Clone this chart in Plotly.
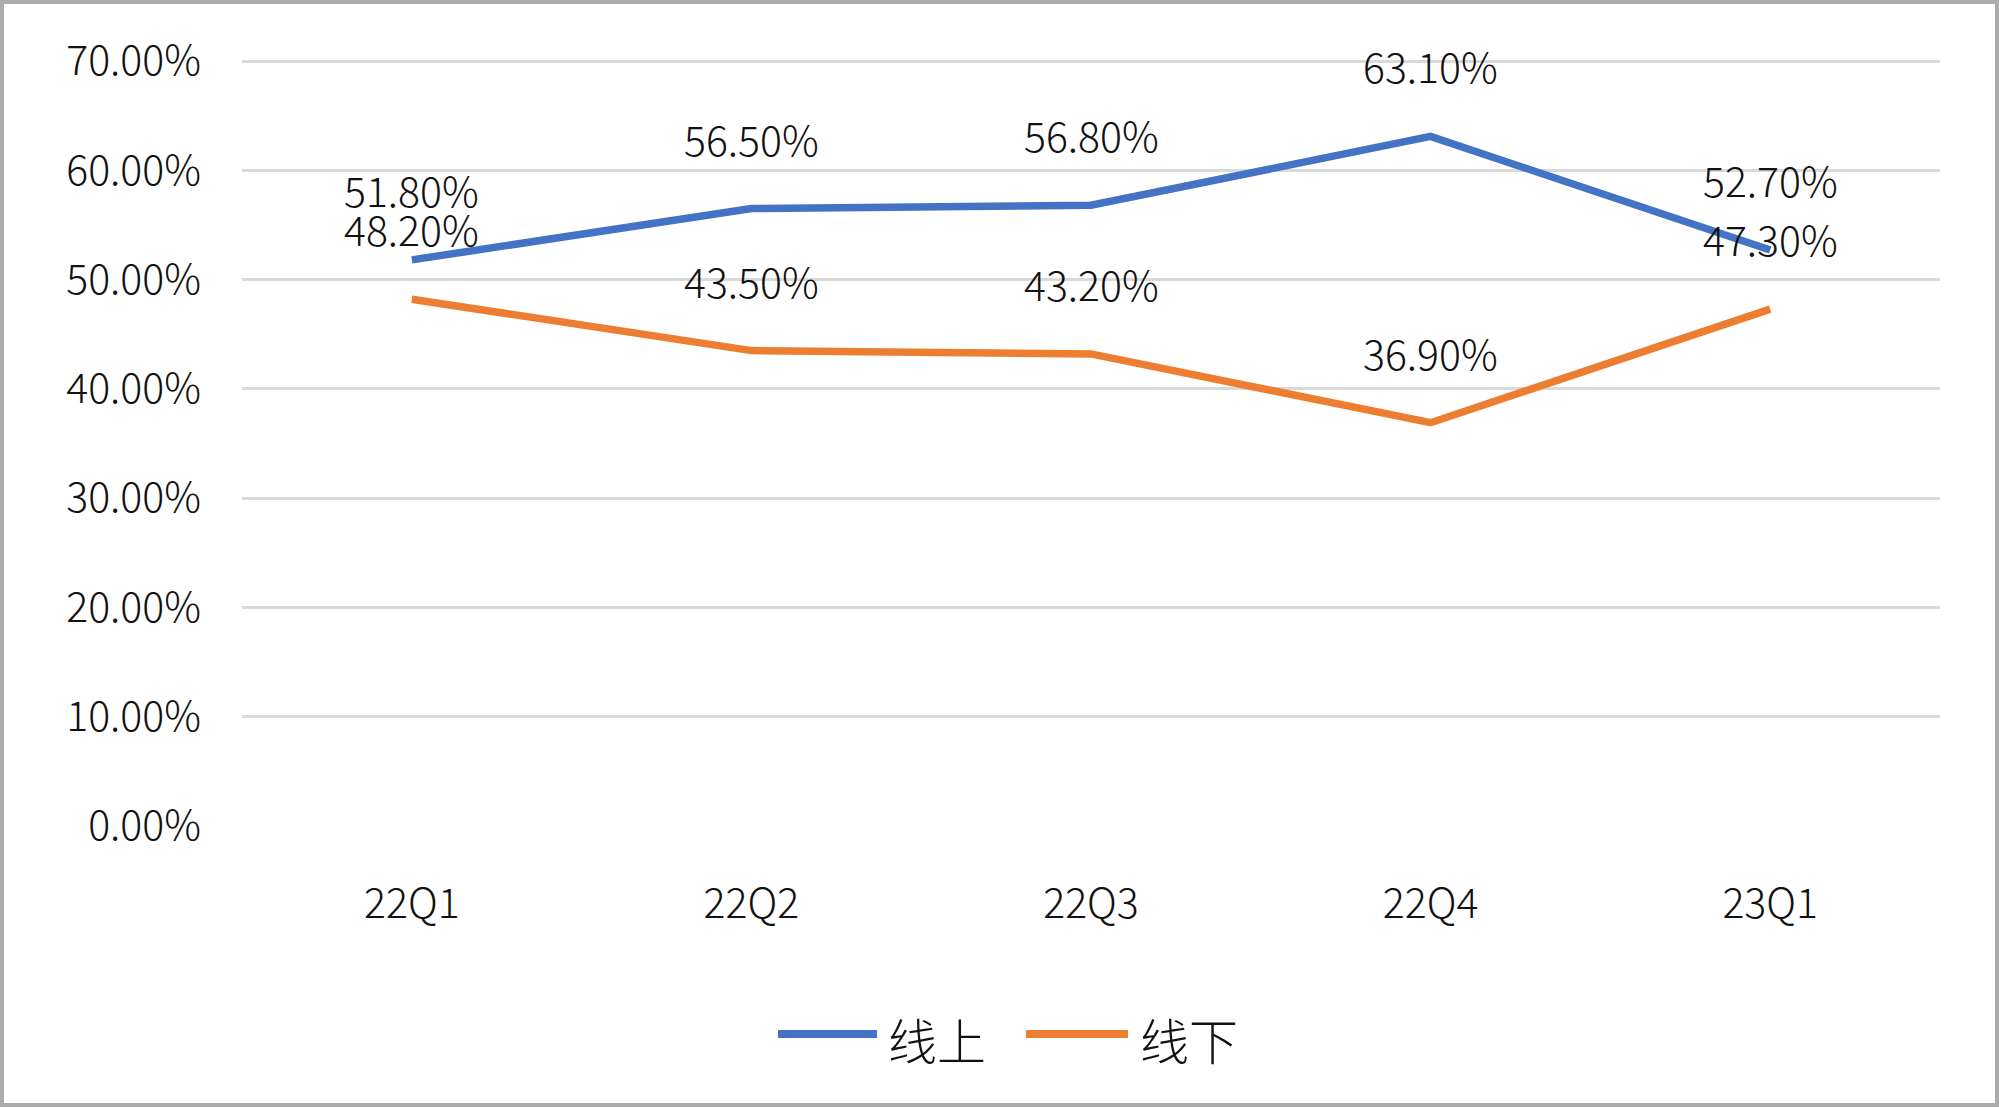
import plotly.graph_objects as go

categories = ["22Q1", "22Q2", "22Q3", "22Q4", "23Q1"]
online = [51.8, 56.5, 56.8, 63.1, 52.7]
offline = [48.2, 43.5, 43.2, 36.9, 47.3]
series_names = ["线上", "线下"]
series_colors = ["#4472C4", "#ED7D31"]
y_ticks = [0, 10, 20, 30, 40, 50, 60, 70]
y_tick_text = [f"{v:.2f}%" for v in y_ticks]

W, H = 1999, 1108
Y0_PX, Y70_PX = 826, 61          # pixel rows of 0% and 70%
L, R, T, B = 242, 59, 54, H - 826
pw, ph = W - L - R, H - T - B
unit = (Y0_PX - Y70_PX) / 70.0
y_top = 70 + (Y70_PX - T) / unit
FONT = "Noto Sans CJK SC"
fs = 41
TXT = "#111111"

def px_x(x):
    return (x - L) / pw

def px_y(y):
    return (H - B - y) / ph

fig = go.Figure()
for name, vals, col in zip(series_names, (online, offline), series_colors):
    fig.add_trace(go.Scatter(x=categories, y=vals, name=name, mode="lines",
                             line=dict(color=col, width=7.5), showlegend=False))
    for c, v in zip(categories, vals):
        fig.add_annotation(x=c, y=v, text=f"{v:.2f}%", showarrow=False,
                           yanchor="middle", xanchor="center", yshift=71,
                           font=dict(family=FONT, size=fs, color=TXT, weight=300))

# legend drawn as swatch + label
legend_items = [(778, 877, 886), (1026, 1128, 1138)]
for (x0, x1, tx), name, col in zip(legend_items, series_names, series_colors):
    fig.add_shape(type="line", xref="paper", yref="paper",
                  x0=px_x(x0), x1=px_x(x1), y0=px_y(1034), y1=px_y(1034),
                  line=dict(color=col, width=8))
    fig.add_annotation(xref="paper", yref="paper", x=px_x(tx), y=px_y(1038),
                       text=name, showarrow=False, xanchor="left", yanchor="middle",
                       font=dict(family=FONT, size=49, color=TXT, weight=300))

fig.add_shape(type="rect", xref="paper", yref="paper",
              x0=px_x(2), x1=px_x(W - 2), y0=px_y(H - 3), y1=px_y(2),
              line=dict(color="#ABABAB", width=4), fillcolor="rgba(0,0,0,0)", layer="below")

fig.update_layout(
    width=W, height=H,
    margin=dict(l=L, r=R, t=T, b=B),
    paper_bgcolor="white", plot_bgcolor="white",
    font=dict(family=FONT, size=fs, color=TXT, weight=300),
    showlegend=False,
    xaxis=dict(type="category", range=[-0.5, 4.5], showgrid=False, zeroline=False, showline=False,
               ticks="", ticklabelstandoff=50, tickfont=dict(size=fs, weight=300)),
    yaxis=dict(range=[0, y_top], tickvals=y_ticks, ticktext=y_tick_text,
               showgrid=True, gridcolor="#D9D9D9", gridwidth=3, zeroline=False, showline=False,
               ticks="", ticklabelstandoff=40, tickfont=dict(size=fs, weight=300)),
)

fig.write_html("out.html", config={"displayModeBar": False},
               post_script="document.body.style.margin='0';document.body.style.overflow='hidden';")
